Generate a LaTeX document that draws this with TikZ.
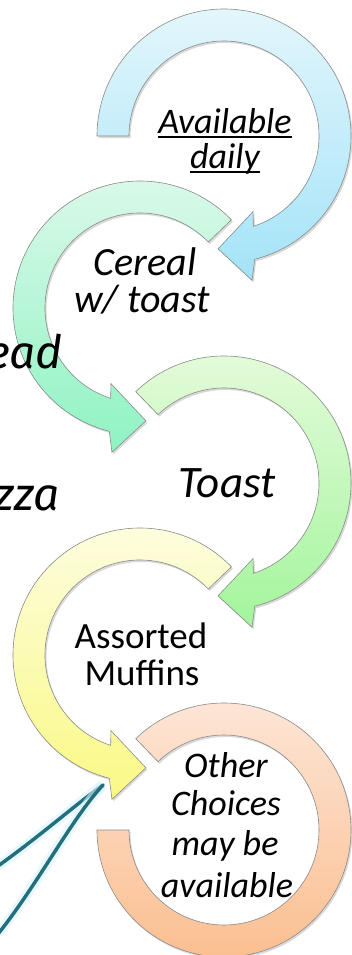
\documentclass[tikz,border=0pt]{standalone}
\usepackage{fontspec}
\setmainfont{Carlito}
\newfontfamily\handfont{Fira Sans}

\definecolor{ringline}{HTML}{8A8A8A}
\definecolor{quillteal}{HTML}{22707E}
\definecolor{blueTop}{HTML}{E3F6FC}   \definecolor{blueBot}{HTML}{A3E3F8}
\definecolor{mintTop}{HTML}{DDF9EA}   \definecolor{mintBot}{HTML}{8FF3C3}
\definecolor{limeTop}{HTML}{E6FBDC}   \definecolor{limeBot}{HTML}{A3F59C}
\definecolor{yellowTop}{HTML}{FDFDE2} \definecolor{yellowBot}{HTML}{FAF985}
\definecolor{peachTop}{HTML}{FDE7D9}  \definecolor{peachBot}{HTML}{FBBD8D}

% clockwise ring arrow, tail at #1, head near the bottom
\newcommand{\roundarrow}[1]{(#1:127) arc[start angle=#1, end angle=-76, radius=127]
  -- (-79:147) -- (-93:113) -- (-69:81) -- (-72:95)
  arc[start angle=-72, end angle=#1, radius=95] -- cycle}
% centre x, centre y, xscale, tail angle, top colour, bottom colour
\newcommand{\ringpiece}[6]{%
  \fill[black, opacity=.15, shift={(#1+1.5,#2-2)}, xscale=#3] \roundarrow{#4};
  \shade[ring, top color=#5, bottom color=#6, shift={(#1,#2)}, xscale=#3] \roundarrow{#4};}
\newcommand{\undr}[1]{\setbox0=\hbox{#1}\rlap{\rule[-5pt]{\wd0}{2pt}}\box0}

\begin{document}
\begin{tikzpicture}[x=1pt, y=1pt,
  ring/.style={draw=ringline, line width=0.6pt},
  ringtext/.style={inner sep=0pt, anchor=base, font=\itshape\fontsize{#1}{#1}\selectfont},
  ringtextup/.style={inner sep=0pt, anchor=base, font=\fontsize{#1}{#1}\selectfont},
  hand/.style={inner sep=0pt, anchor=base east, font=\handfont\itshape\fontsize{46}{46}\selectfont},
  quill/.style={draw=quillteal, line width=3.5pt, line cap=round,
    preaction={draw=cyan!15, line width=10pt, opacity=.6}}]
\useasboundingbox (0,0) rectangle (352,-955);
\clip (0,0) rectangle (352,-955);

% quill strokes
\coordinate (nib) at (103,-785);
\coordinate (upper) at (-2,-866);
\coordinate (lower) at (-2,-934);
\draw[quill] (upper) .. controls (40,-836) and (75,-805) .. (nib);
\draw[quill] (lower) .. controls (38,-884) and (72,-818) .. (nib);

% the rings
\fill[black, opacity=.15, shift={(225.5,-832)}]
  (134:127) arc[start angle=134, end angle=-180, radius=127]
  -- (-180:95) arc[start angle=-180, end angle=134, radius=95] -- cycle;
\shade[ring, top color=peachTop, bottom color=peachBot, shift={(224,-830)}]
  (134:127) arc[start angle=134, end angle=-180, radius=127]
  -- (-180:95) arc[start angle=-180, end angle=134, radius=95] -- cycle;
\ringpiece{140}{-655}{-1}{136}{yellowTop}{yellowBot}
\ringpiece{224}{-483}{1}{134}{limeTop}{limeBot}
\ringpiece{140}{-308}{-1}{136}{mintTop}{mintBot}
\ringpiece{224}{-136}{1}{180}{blueTop}{blueBot}

% texts
\node[ringtext=36] (avail1) at (225,-133) {\undr{Available}};
\node[ringtext=36] (avail2) at (225,-168) {\undr{daily}};
\node[ringtext=40] (cereal1) at (145,-275) {Cereal};
\node[ringtext=40] (cereal2) at (142,-312) {w/ toast};
\node[ringtext=45] (toast) at (227,-497) {Toast};
\node[ringtextup=37] (muffin1) at (141,-648) {Assorted};
\node[ringtextup=37] (muffin2) at (142,-685) {Muffins};
\node[ringtext=36] (other1) at (226,-777) {Other};
\node[ringtext=36] (other2) at (226,-815) {Choices};
\node[ringtext=36] (other3) at (225,-855) {may be};
\node[ringtext=36] (other4) at (227,-897) {available};

% words cut off at the left edge
\node[hand] (bread) at (63,-368) {ead};
\node[hand] (pizza) at (60,-510) {zza};
\end{tikzpicture}
\end{document}
